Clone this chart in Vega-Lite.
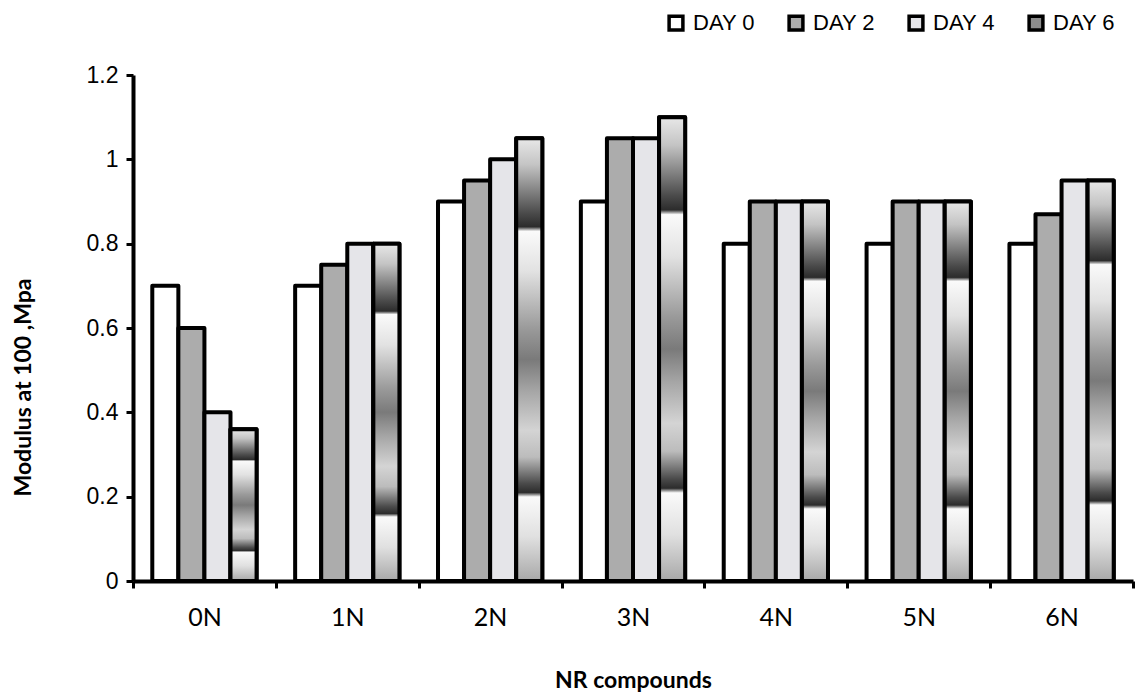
{
  "$schema": "https://vega.github.io/schema/vega-lite/v6.json",
  "width": 1000,
  "height": 506,
  "autosize": {"type": "none"},
  "padding": {"left": 133, "top": 75, "right": 2, "bottom": 114},
  "background": "white",
  "config": {"view": {"stroke": null}},
  "data": {
    "values": [
      {"compound": "0N", "day": "DAY 0", "value": 0.7},
      {"compound": "0N", "day": "DAY 2", "value": 0.6},
      {"compound": "0N", "day": "DAY 4", "value": 0.4},
      {"compound": "0N", "day": "DAY 6", "value": 0.36},
      {"compound": "1N", "day": "DAY 0", "value": 0.7},
      {"compound": "1N", "day": "DAY 2", "value": 0.75},
      {"compound": "1N", "day": "DAY 4", "value": 0.8},
      {"compound": "1N", "day": "DAY 6", "value": 0.8},
      {"compound": "2N", "day": "DAY 0", "value": 0.9},
      {"compound": "2N", "day": "DAY 2", "value": 0.95},
      {"compound": "2N", "day": "DAY 4", "value": 1.0},
      {"compound": "2N", "day": "DAY 6", "value": 1.05},
      {"compound": "3N", "day": "DAY 0", "value": 0.9},
      {"compound": "3N", "day": "DAY 2", "value": 1.05},
      {"compound": "3N", "day": "DAY 4", "value": 1.05},
      {"compound": "3N", "day": "DAY 6", "value": 1.1},
      {"compound": "4N", "day": "DAY 0", "value": 0.8},
      {"compound": "4N", "day": "DAY 2", "value": 0.9},
      {"compound": "4N", "day": "DAY 4", "value": 0.9},
      {"compound": "4N", "day": "DAY 6", "value": 0.9},
      {"compound": "5N", "day": "DAY 0", "value": 0.8},
      {"compound": "5N", "day": "DAY 2", "value": 0.9},
      {"compound": "5N", "day": "DAY 4", "value": 0.9},
      {"compound": "5N", "day": "DAY 6", "value": 0.9},
      {"compound": "6N", "day": "DAY 0", "value": 0.8},
      {"compound": "6N", "day": "DAY 2", "value": 0.87},
      {"compound": "6N", "day": "DAY 4", "value": 0.95},
      {"compound": "6N", "day": "DAY 6", "value": 0.95}
    ]
  },
  "encoding": {
    "x": {
      "field": "compound",
      "type": "nominal",
      "sort": ["0N", "1N", "2N", "3N", "4N", "5N", "6N"],
      "scale": {"paddingInner": 0, "paddingOuter": 0},
      "axis": {
        "title": "NR compounds",
        "titleFont": "Lato",
        "titleFontWeight": "bold",
        "titleFontSize": 23,
        "titleColor": "black",
        "titleY": 106,
        "titleBaseline": "alphabetic",
        "labelAngle": 0,
        "labelFont": "Lato",
        "labelFontSize": 25,
        "labelColor": "black",
        "labelPadding": 17,
        "domainColor": "black",
        "domainWidth": 4,
        "tickColor": "black",
        "tickWidth": 3,
        "tickSize": 7,
        "tickBand": "extent"
      }
    },
    "xOffset": {
      "field": "day",
      "type": "nominal",
      "scale": {"domain": ["DAY 0", "DAY 2", "DAY 4", "DAY 6"], "paddingInner": 0, "paddingOuter": 0.74}
    },
    "y": {
      "field": "value",
      "type": "quantitative",
      "scale": {"domain": [0, 1.2], "nice": false},
      "axis": {
        "title": "Modulus at 100 ,Mpa",
        "titleFont": "Lato",
        "titleFontSize": 23,
        "titleFontWeight": "bold",
        "titleColor": "black",
        "titleX": -110,
        "titleY": 312,
        "titleBaseline": "middle",
        "titleAlign": "center",
        "titleAngle": 270,
        "values": [0, 0.2, 0.4, 0.6, 0.8, 1, 1.2],
        "format": "~g",
        "labelFont": "Liberation Sans",
        "labelFontSize": 23,
        "labelColor": "black",
        "labelPadding": 8,
        "domainColor": "black",
        "domainWidth": 4,
        "tickColor": "black",
        "tickWidth": 3,
        "tickSize": 7,
        "grid": false
      }
    }
  },
  "layer": [
    {
      "mark": {"type": "bar", "stroke": "black", "strokeWidth": 4, "strokeJoin": "round"},
      "encoding": {
        "fill": {
          "field": "day",
          "type": "nominal",
          "scale": {
            "domain": ["DAY 0", "DAY 2", "DAY 4", "DAY 6"],
            "range": ["#ffffff", "#acacac", "#e5e5e9", "#8c8c8c"]
          },
          "legend": {
            "title": null,
            "orient": "none",
            "direction": "horizontal",
            "legendX": 532,
            "legendY": -63,
            "symbolType": "square",
            "symbolSize": 190,
            "symbolStrokeColor": "black",
            "symbolStrokeWidth": 3.5,
            "symbolOpacity": 1,
            "labelFont": "Liberation Sans",
            "labelFontSize": 22,
            "labelColor": "black",
            "labelOffset": 6,
            "columnPadding": 27
          }
        }
      }
    },
    {
      "transform": [{"filter": "datum.day === 'DAY 6'"}],
      "mark": {
        "type": "bar",
        "stroke": "black",
        "strokeWidth": 4,
        "strokeJoin": "round",
        "fill": {
          "gradient": "linear",
          "x1": 0, "y1": 0, "x2": 0, "y2": 1,
          "stops": [
            {"offset": 0, "color": "#e8e8e8"},
            {"offset": 0.06, "color": "#c4c4c4"},
            {"offset": 0.17, "color": "#4a4a4a"},
            {"offset": 0.2, "color": "#2c2c2c"},
            {"offset": 0.21, "color": "#fafafa"},
            {"offset": 0.3, "color": "#e2e2e2"},
            {"offset": 0.43, "color": "#9a9a9a"},
            {"offset": 0.5, "color": "#7a7a7a"},
            {"offset": 0.57, "color": "#a5a5a5"},
            {"offset": 0.66, "color": "#d4d4d4"},
            {"offset": 0.72, "color": "#bcbcbc"},
            {"offset": 0.78, "color": "#4a4a4a"},
            {"offset": 0.8, "color": "#2c2c2c"},
            {"offset": 0.81, "color": "#fafafa"},
            {"offset": 0.9, "color": "#e0e0e0"},
            {"offset": 1, "color": "#a8a8a8"}
          ]
        }
      }
    }
  ]
}
